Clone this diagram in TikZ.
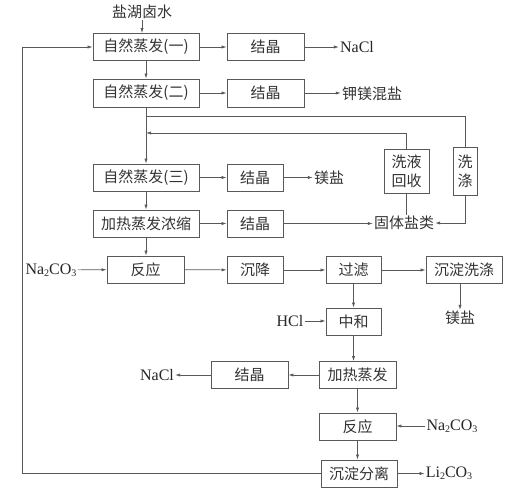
\documentclass[tikz,border=0pt]{standalone}
\usepackage{fontspec}
\setmainfont{Liberation Serif}
\newfontfamily\cjk{Noto Sans CJK SC}
\usetikzlibrary{arrows.meta}
\newcommand\chsub[1]{\raisebox{-0.3ex}{\fontsize{10}{10}\selectfont #1}}
\begin{document}
\begin{tikzpicture}[x=1pt,y=-1pt,
 box/.style={draw=black!65, line width=0.8pt, inner sep=0pt, minimum height=27pt, align=center,
   font=\cjk\fontsize{15}{19}\selectfont, text=black!80},
 lbl/.style={inner sep=1pt, text=black!85, font=\fontsize{16}{16}\selectfont},
 cnl/.style={inner sep=1pt, text=black!80, font=\cjk\fontsize{15}{15}\selectfont},
 line/.style={draw=black!65, line width=0.7pt},
 arr/.style={line, -{Latex[length=5pt,width=3.2pt]}}]
\useasboundingbox (0,0) rectangle (518,491);
% row 1
\node[cnl] (src) at (142,12) {盐湖卤水};
\node[box, minimum width=106pt] (e1) at (146,47) {自然蒸发(一)};
\node[box, minimum width=77pt] (c1) at (265.5,47) {结晶};
\node[lbl] (n1) at (357,47) {NaCl};
% row 2
\node[box, minimum width=106pt, minimum height=28pt] (e2) at (146,93) {自然蒸发(二)};
\node[box, minimum width=77pt, minimum height=28pt] (c2) at (265.5,93) {结晶};
\node[cnl] (km) at (372,94) {钾镁混盐};
% row 3
\node[box, minimum width=106pt] (e3) at (146,177.5) {自然蒸发(三)};
\node[box, minimum width=56pt] (c3) at (255,177.5) {结晶};
\node[cnl] (mg1) at (329,178) {镁盐};
\node[box, minimum width=45pt, minimum height=44pt] (w1) at (406.5,171) {洗液\\回收};
\node[box, minimum width=24pt, minimum height=48pt] (w2) at (465,171) {洗\\涤};
% row 4
\node[box, minimum width=106pt] (e4) at (146,223.5) {加热蒸发浓缩};
\node[box, minimum width=56pt] (c4) at (255,223.5) {结晶};
\node[cnl] (g) at (404,223) {固体盐类};
% row 5
\node[lbl] (na1) at (51,270) {Na\chsub{2}CO\chsub{3}};
\node[box, minimum width=77pt] (r1) at (145.5,269.5) {反应};
\node[box, minimum width=56pt] (sj) at (255,270) {沉降};
\node[box, minimum width=55pt] (gl) at (353.5,270) {过滤};
\node[box, minimum width=76pt] (cx) at (464,270) {沉淀洗涤};
\node[cnl] (mg2) at (460,318) {镁盐};
% row 6
\node[lbl] (hcl) at (290,321) {HCl};
\node[box, minimum width=55pt] (zh) at (353.5,321.5) {中和};
% row 7
\node[lbl] (n2) at (157,375) {NaCl};
\node[box, minimum width=77pt] (c6) at (249.5,375) {结晶};
\node[box, minimum width=77pt] (h1) at (357.5,375) {加热蒸发};
% row 8
\node[box, minimum width=77pt] (r2) at (357.5,426.5) {反应};
\node[lbl] (na2) at (452,426) {Na\chsub{2}CO\chsub{3}};
% row 9
\node[box, minimum width=76pt] (s) at (359,473.5) {沉淀分离};
\node[lbl] (li) at (449,473) {Li\chsub{2}CO\chsub{3}};
% coordinates
\coordinate (lb) at (22,473.5);
\coordinate (lt) at (22,47);
\coordinate (j1) at (146,116);
\coordinate (j2) at (146,133);
% connectors
\draw[arr] (src.south) -- (src.south |- e1.north);
\draw[arr] (e1) -- (c1);
\draw[arr] (c1) -- (n1);
\draw[arr] (e1) -- (e2);
\draw[arr] (e2) -- (c2);
\draw[arr] (c2.east) -- (c2.east -| km.west);
\draw[arr] (e2) -- (e3);
\draw[line] (w2.north) |- (j1);
\draw[arr] (w1.north) |- (j2);
\draw[arr] (e3) -- (c3);
\draw[arr] (c3.east) -- (c3.east -| mg1.west);
\draw[arr] (e3) -- (e4);
\draw[arr] (e4) -- (c4);
\draw[arr] (c4.east) -- (c4.east -| g.west);
\draw[line] (w1.south) -- (w1.south |- g.north);
\draw[arr] (w2.south) |- (g.east);
\draw[arr] (e4.south) -- (e4.south |- r1.north);
\draw[arr] (na1) -- (r1);
\draw[arr] (r1) -- (sj);
\draw[arr] (sj) -- (gl);
\draw[arr] (gl) -- (cx);
\draw[arr] (mg2.north |- cx.south) -- (mg2.north);
\draw[arr] (gl) -- (zh);
\draw[arr] (hcl.east) -- (hcl.east -| zh.west);
\draw[arr] (zh.south) -- (zh.south |- h1.north);
\draw[arr] (h1) -- (c6);
\draw[arr] (c6) -- (n2);
\draw[arr] (h1) -- (r2);
\draw[arr] (na2.west) -- (na2.west -| r2.east);
\draw[arr] (r2.south) -- (r2.south |- s.north);
\draw[arr] (s.east) -- (s.east -| li.west);
\draw[arr] (s.west) -- (lb) -- (lt) -- (e1.west);
\end{tikzpicture}
\end{document}
